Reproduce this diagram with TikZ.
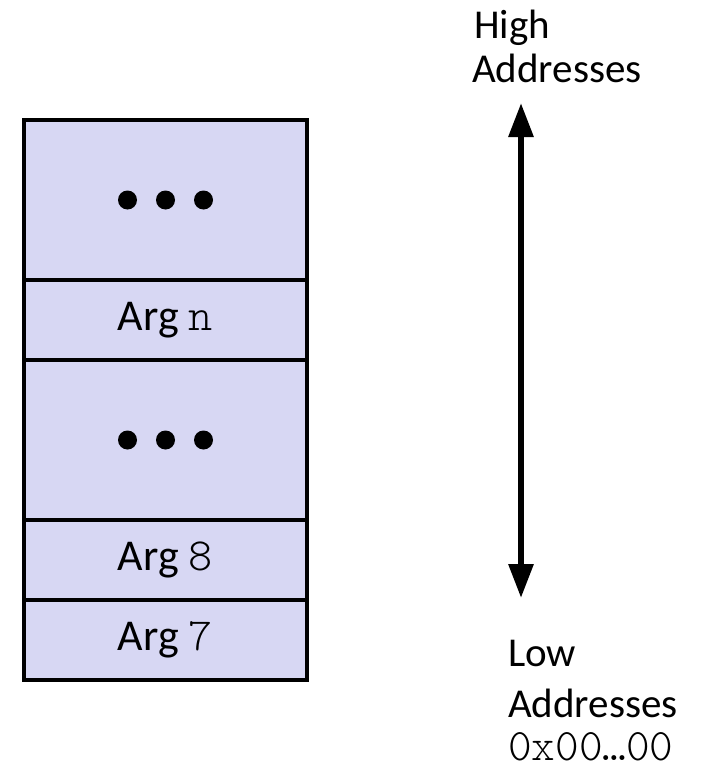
\documentclass[tikz,border=0pt]{standalone}
\usepackage{fontspec}
\setmainfont{Carlito}
\newfontfamily\codefont{Latin Modern Mono Light}
\usetikzlibrary{arrows.meta}
\definecolor{stackfill}{RGB}{215,215,243}
\begin{document}
\begin{tikzpicture}[x=1pt,y=-1pt,
  cell/.style={draw=black,line width=4.5pt,fill=stackfill,minimum width=283pt,inner sep=0pt,font=\fontsize{44}{50}\selectfont},
  dot/.style={circle,fill=black,minimum size=19pt,inner sep=0pt},
  lbl/.style={font=\fontsize{41}{46}\selectfont,anchor=base west,inner sep=0pt}]
\useasboundingbox (0,0) rectangle (701,768);
\node[cell,minimum height=160pt] (c1) at (165.5,200) {};
\node[cell,minimum height=80pt] (c2) at (165.5,320) {Arg {\codefont\fontsize{46}{50}\selectfont n}};
\node[cell,minimum height=160pt] (c3) at (165.5,440) {};
\node[cell,minimum height=80pt] (c4) at (165.5,560) {Arg {\codefont\fontsize{46}{50}\selectfont 8}};
\node[cell,minimum height=80pt] (c5) at (165.5,640) {Arg {\codefont\fontsize{46}{50}\selectfont 7}};
\foreach \c in {c1,c3}{
  \node[dot] at ([xshift=-38pt]\c.center) {};
  \node[dot] at (\c.center) {};
  \node[dot] at ([xshift=38pt]\c.center) {};
}
\node[lbl] (high) at (474,38) {High};
\node[lbl] (haddr) at (472,82) {Addresses};
\node[lbl] (low) at (508,666) {Low};
\node[lbl] (laddr) at (508,717) {Addresses};
\node[lbl,font=\codefont\fontsize{45}{50}\selectfont] (zero) at (508,760) {0x00…00};
\coordinate (atop) at (521,103);
\coordinate (abot) at (521,598);
\draw[line width=6pt,{Triangle[length=34pt,width=24pt]}-{Triangle[length=34pt,width=24pt]}] (atop) -- (abot);
\end{tikzpicture}
\end{document}
